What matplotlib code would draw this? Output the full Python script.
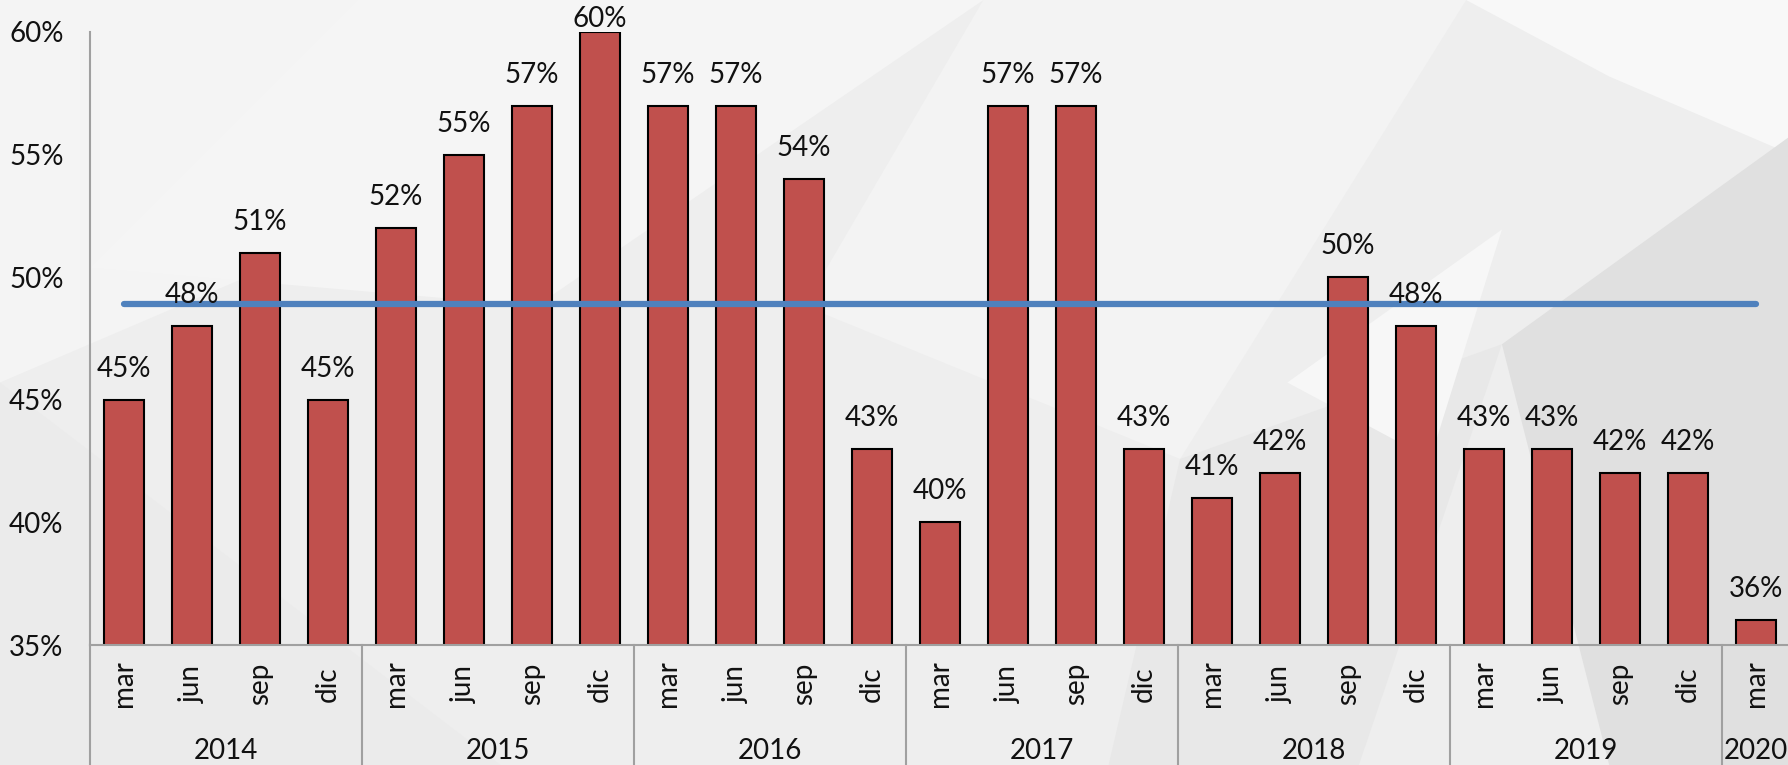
import matplotlib
matplotlib.use("Agg")
import matplotlib.pyplot as plt
from matplotlib.patches import Polygon
import matplotlib.transforms as mtransforms

# data
years = ['2014', '2015', '2016', '2017', '2018', '2019', '2020']
months_per_year = [4, 4, 4, 4, 4, 4, 1]
month_names = ['mar', 'jun', 'sep', 'dic']
values = [45, 48, 51, 45, 52, 55, 57, 60, 57, 57, 54, 43,
          40, 57, 57, 43, 41, 42, 50, 48, 43, 43, 42, 42, 36]
average = 48.9
y_ticks = [35, 40, 45, 50, 55, 60]

month_labels = []
for n in months_per_year:
    month_labels += month_names[:n]

plt.rcParams['font.family'] = ['Lato', 'DejaVu Sans']
FS = 20

fig = plt.figure(figsize=(17.88, 7.65), dpi=100)
fig.patch.set_facecolor('#eeeeee')

# faint geometric background
bg_shapes = [
    ([(0, 1), (0.5, 1), (0.0, 0.5)], '#f4f4f4'),
    ([(0.2, 1), (0.55, 1), (0.3, 0.6), (0.05, 0.65)], '#f5f5f5'),
    ([(0.55, 1), (0.82, 1), (0.66, 0.4), (0.45, 0.6)], '#f3f3f3'),
    ([(0.82, 1), (1, 1), (1, 0.8), (0.9, 0.9)], '#f8f8f8'),
    ([(0.84, 0.55), (1, 0.82), (1, 0), (0.9, 0)], '#e0e0e0'),
    ([(0.66, 0.4), (0.84, 0.55), (0.76, 0.0), (0.62, 0.0)], '#e8e8e8'),
    ([(0.72, 0.5), (0.84, 0.7), (0.8, 0.4)], '#f7f7f7'),
    ([(0.0, 0.5), (0.28, 0.0), (0.0, 0.0)], '#ebebeb'),
]
for pts, col in bg_shapes:
    fig.patches.append(Polygon(pts, closed=True, transform=fig.transFigure,
                               facecolor=col, edgecolor='none', zorder=-10))

ax = fig.add_axes([90 / 1788, 1 - 645 / 765, 1700 / 1788, 613 / 765])
ax.patch.set_alpha(0)

x = list(range(len(values)))
ax.bar(x, values, width=0.6, bottom=0, color='#c0504d', edgecolor='black',
       linewidth=1.5, zorder=2)
ax.plot([x[0], x[-1]], [average, average], color='#4f81bd', linewidth=4.5,
        solid_capstyle='round', zorder=3)

ax.set_ylim(35, 60)
ax.set_xlim(-0.5, len(values) - 0.5)

for xi, v in zip(x, values):
    off = 13 if v < 59 else 0
    ax.annotate(f'{v}%', (xi, v), xytext=(0, off), textcoords='offset points',
                ha='center', va='bottom', fontsize=FS, color='#111111', zorder=4,
                annotation_clip=False)

ax.set_yticks(y_ticks)
ax.set_yticklabels([f'{t}%' for t in y_ticks], fontsize=FS, color='#111111')
ax.tick_params(axis='y', length=0, pad=19)
ax.set_xticks([])

for s in ['top', 'right']:
    ax.spines[s].set_visible(False)
ax.spines['left'].set_color('#a0a0a0')
ax.spines['left'].set_linewidth(1.5)
ax.spines['bottom'].set_color('#a0a0a0')
ax.spines['bottom'].set_linewidth(1.5)

# two-level category axis
trans = mtransforms.blended_transform_factory(ax.transData, fig.transFigure)
y_axis_bottom = 1 - 645 / 765
for xi, lab in zip(x, month_labels):
    ax.text(xi, 1 - 684 / 765, lab, transform=trans, rotation=90, ha='center',
            va='center', fontsize=FS, color='#111111')

start = 0
bounds = [-0.5]
for yr, n in zip(years, months_per_year):
    ax.text(start + (n - 1) / 2, 1 - 751 / 765, yr, transform=trans, ha='center',
            va='center', fontsize=FS, color='#111111')
    start += n
    bounds.append(start - 0.5)
for b in bounds:
    ax.plot([b, b], [0, y_axis_bottom], transform=trans, color='#a0a0a0',
            linewidth=1.5, clip_on=False)

fig.savefig('out.png', dpi=100, facecolor=fig.get_facecolor())
